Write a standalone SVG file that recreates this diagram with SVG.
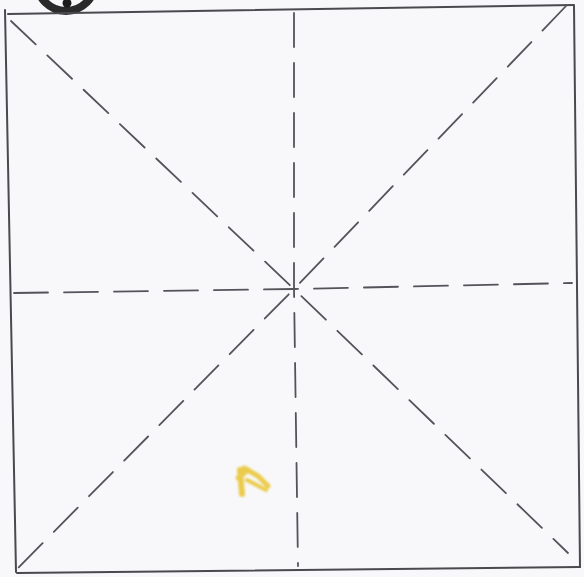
<svg xmlns="http://www.w3.org/2000/svg" width="584" height="577" viewBox="0 0 584 577">
<style>
.edge{fill:none;stroke:#4a4a4e;stroke-width:2;stroke-linecap:round}
.fold{fill:none;stroke:#55535a;stroke-width:1.8;stroke-dasharray:34 16;stroke-linecap:round}
</style>
<defs>
<filter id="soft" x="-20%" y="-20%" width="140%" height="140%"><feGaussianBlur stdDeviation="1.2"/></filter>
</defs>
<rect width="584" height="577" fill="#f8f8fa"/>
<g id="badge">
<circle cx="66" cy="-18" r="29" fill="none" stroke="#2a2a2a" stroke-width="8"/>
<circle cx="67" cy="3" r="4.5" fill="#1c1c1c"/>
</g>
<g id="square">
<path class="edge" d="M8 14 L574 5"/>
<path class="edge" d="M574 6 L580 567"/>
<path class="edge" d="M17 573 L580 567"/>
<path class="edge" d="M5 10 L16 572"/>
</g>
<g id="folds">
<path class="fold" d="M11 21 L294 289 L568 553"/>
<path class="fold" d="M566 6 L294 289 L17 569"/>
<path class="fold" d="M294 13 L294 289 L298 566"/>
<path class="fold" d="M14 293 L294 289 L572 283"/>
</g>
<g id="smudge" fill="none" stroke="#e8c020" stroke-linecap="round" opacity="0.8" filter="url(#soft)">
<path d="M240 470 L242 494" stroke-width="6"/>
<path d="M244 468 L258 476 L268 486" stroke-width="5"/>
<path d="M247 480 L266 490" stroke-width="4"/>
<path d="M238 478 L248 470" stroke-width="5"/>
</g>
</svg>
